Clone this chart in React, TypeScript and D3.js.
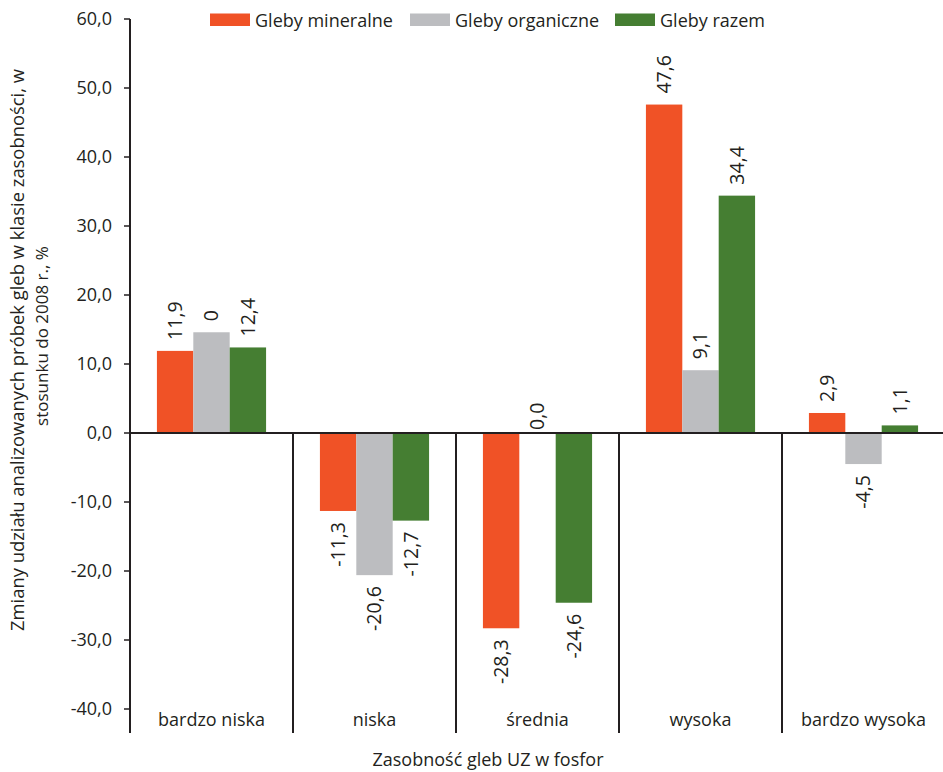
import React from "react";
import * as d3 from "d3";

const categories = ["bardzo niska", "niska", "średnia", "wysoka", "bardzo wysoka"];
const seriesNames = ["Gleby mineralne", "Gleby organiczne", "Gleby razem"];
const seriesColors = ["#F05226", "#BCBDC0", "#457E32"];
const mineralne = [11.9, -11.3, -28.3, 47.6, 2.9];
const organiczne = [14.6, -20.6, 0.0, 9.1, -4.5];
const razem = [12.4, -12.7, -24.6, 34.4, 1.1];
const mineralneLabels = ["11,9", "-11,3", "-28,3", "47,6", "2,9"];
const organiczneLabels = ["0", "-20,6", "0,0", "9,1", "-4,5"];
const razemLabels = ["12,4", "-12,7", "-24,6", "34,4", "1,1"];
const yTicks = [-40, -30, -20, -10, 0, 10, 20, 30, 40, 50, 60];
const yTitle1 = "Zmiany udziału analizowanych próbek gleb w klasie zasobności, w";
const yTitle2 = "stosunku do 2008 r., %";
const xTitle = "Zasobność gleb UZ w fosfor";

const W = 943;
const H = 772;
const FONT = "'Open Sans', sans-serif";
const TEXT = "#231F20";

export default function App() {
  const seriesValues = [mineralne, organiczne, razem];
  const seriesLabels = [mineralneLabels, organiczneLabels, razemLabels];
  const y = d3.scaleLinear().domain([-40, 60]).range([709, 19]);
  const x0 = d3.scaleBand<string>().domain(categories).range([130, 945]).padding(0);
  const x1 = d3
    .scaleBand<string>()
    .domain(seriesNames)
    .range([0, x0.bandwidth()])
    .paddingInner(0)
    .paddingOuter(0.74);
  const fmt = (v: number) => v.toFixed(1).replace(".", ",");
  const y0 = y(0);
  const axisBottom = 733;
  const legendX = [210, 410, 615];

  return (
    <svg
      width={W}
      height={H}
      style={{ position: "absolute", left: 0, top: 0, background: "#fff" }}
      fontFamily={FONT}
    >
      {/* bars */}
      {categories.map((c, ci) =>
        seriesNames.map((s, si) => {
          const v = seriesValues[si][ci];
          const bx = (x0(c) as number) + (x1(s) as number);
          const top = Math.min(y(v), y0);
          const h = Math.abs(y(v) - y0);
          return (
            <rect
              key={c + s}
              x={bx}
              y={top}
              width={x1.bandwidth()}
              height={h}
              fill={seriesColors[si]}
            />
          );
        })
      )}
      {/* zero line */}
      <line x1={130} x2={W} y1={y0} y2={y0} stroke={TEXT} strokeWidth={2} />
      {/* category separators */}
      {categories.slice(1).map((c) => (
        <line
          key={c}
          x1={x0(c) as number}
          x2={x0(c) as number}
          y1={y0}
          y2={axisBottom}
          stroke={TEXT}
          strokeWidth={2}
        />
      ))}
      {/* y axis */}
      <line x1={130} x2={130} y1={y(60)} y2={axisBottom} stroke={TEXT} strokeWidth={2} />
      {yTicks.map((t) => (
        <g key={t}>
          <line x1={124} x2={130} y1={y(t)} y2={y(t)} stroke={TEXT} strokeWidth={1.5} />
          <text
            x={112}
            y={y(t)}
            dy="0.35em"
            textAnchor="end"
            fontSize={18}
            fill={TEXT}
          >
            {fmt(t)}
          </text>
        </g>
      ))}
      {/* data labels */}
      {categories.map((c, ci) =>
        seriesNames.map((s, si) => {
          const v = seriesValues[si][ci];
          const cx = (x0(c) as number) + (x1(s) as number) + x1.bandwidth() / 2;
          const gap = v === 0 ? 3 : 11;
          const ly = v >= 0 ? y(v) - gap : y(v) + gap;
          return (
            <text
              key={"l" + c + s}
              transform={`translate(${cx},${ly}) rotate(-90)`}
              dy="0.35em"
              textAnchor={v >= 0 ? "start" : "end"}
              fontSize={19.5}
              fill={TEXT}
            >
              {seriesLabels[si][ci]}
            </text>
          );
        })
      )}
      {/* category labels */}
      {categories.map((c) => (
        <text
          key={"c" + c}
          x={(x0(c) as number) + x0.bandwidth() / 2}
          y={726}
          textAnchor="middle"
          fontSize={18}
          fill={TEXT}
        >
          {c}
        </text>
      ))}
      {/* x title */}
      <text x={488} y={766} textAnchor="middle" fontSize={18} fill={TEXT}>
        {xTitle}
      </text>
      {/* y title */}
      <text
        transform={`translate(18,350) rotate(-90)`}
        dy="0.35em"
        textAnchor="middle"
        fontSize={18.4}
        fill={TEXT}
      >
        {yTitle1}
      </text>
      <text
        transform={`translate(42,336) rotate(-90)`}
        dy="0.35em"
        textAnchor="middle"
        fontSize={17}
        fill={TEXT}
      >
        {yTitle2}
      </text>
      {/* legend */}
      {seriesNames.map((s, si) => (
        <g key={"lg" + s}>
          <rect x={legendX[si]} y={13.5} width={40} height={12.5} fill={seriesColors[si]} />
          <text x={legendX[si] + 45} y={27} fontSize={18} fill={TEXT}>
            {s}
          </text>
        </g>
      ))}
    </svg>
  );
}
